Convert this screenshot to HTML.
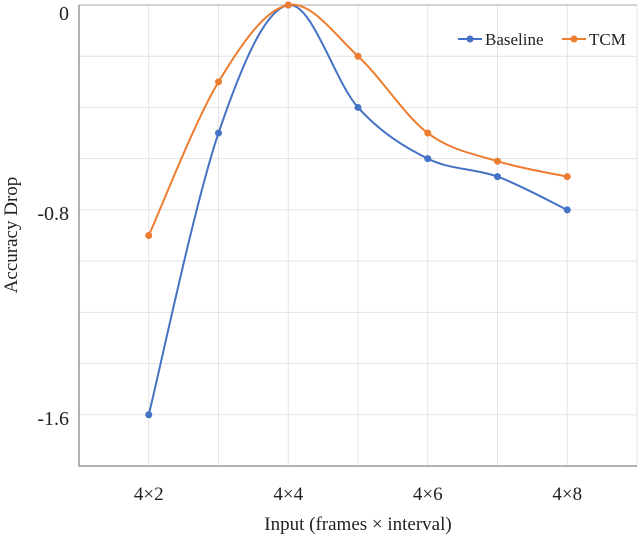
<!DOCTYPE html>
<html><head><meta charset="utf-8"><style>
body{margin:0;background:#fff;}
svg text{font-family:"Liberation Serif",serif;fill:#222;}
</style></head><body>
<svg id="chart" width="640" height="536"></svg>
<script>
const categories=["4×2","4×3","4×4","4×5","4×6","4×7","4×8"];
const tickLabelCats=["4×2","4×4","4×6","4×8"];
const baselineValues=[-1.6,-0.5,0,-0.4,-0.6,-0.67,-0.8];
const tcmValues=[-0.9,-0.3,0,-0.2,-0.5,-0.61,-0.67];
const yTicks=[0,-0.8,-1.6];
const yGrid=[0,-0.2,-0.4,-0.6,-0.8,-1.0,-1.2,-1.4,-1.6,-1.8];

const L=79,R=637,T=5,B=466;
const x=i=>L+(i+1)*(R-L)/8;
const y=v=>T+(0-v)/1.8*(B-T);
const svg=document.getElementById('chart');
const NS='http://www.w3.org/2000/svg';
function mk(tag,attrs,parent){const e=document.createElementNS(NS,tag);for(const k in attrs)e.setAttribute(k,attrs[k]);(parent||svg).appendChild(e);return e;}

for(const g of yGrid){const l=mk('line',{x1:L,x2:R,y1:y(g),y2:y(g),stroke:'#e3e3e3','stroke-width':1});

}
for(let i=0;i<=8;i++){const xx=L+i*(R-L)/8;const l=mk('line',{x1:xx,x2:xx,y1:T,y2:B,stroke:'#e3e3e3','stroke-width':1});

}
const ax=mk('path',{d:`M${L},${T}V${B}H${R}`,fill:'none',stroke:'#888','stroke-width':1.3});


const tp=mk('line',{x1:L,x2:R,y1:T,y2:T,stroke:'#aaa','stroke-width':1});



for(const t of yTicks){const e=mk('text',{x:69,y:Math.max(y(t)+10,20),'text-anchor':'end','font-size':20});e.textContent=t===0?'0':t.toFixed(1);

}
categories.forEach((c,i)=>{if(tickLabelCats.includes(c)){const e=mk('text',{x:x(i),y:500,'text-anchor':'middle','font-size':19});e.textContent=c;

}});
const xt=mk('text',{x:358,y:530,'text-anchor':'middle','font-size':19});xt.textContent='Input (frames × interval)';


const yt=mk('text',{x:0,y:0,'text-anchor':'middle','font-size':19,transform:'translate(17,235) rotate(-90)'});yt.textContent='Accuracy Drop';



function smooth(vals){const p=vals.map((v,i)=>[x(i),y(v)]);let d=`M${p[0][0]},${p[0][1]}`;
for(let i=0;i<p.length-1;i++){const p0=p[i-1]||p[i],p1=p[i],p2=p[i+1],p3=p[i+2]||p2;
const c1=[p1[0]+(p2[0]-p0[0])/6,p1[1]+(p2[1]-p0[1])/6],c2=[p2[0]-(p3[0]-p1[0])/6,p2[1]-(p3[1]-p1[1])/6];
d+=`C${c1[0]},${c1[1]} ${c2[0]},${c2[1]} ${p2[0]},${p2[1]}`;}return d;}
function series(vals,color,name){const g=mk('g',{});


const pth=mk('path',{d:smooth(vals),fill:'none',stroke:color,'stroke-width':2},g);


vals.forEach((v,i)=>{const c=mk('circle',{cx:x(i),cy:y(v),r:3.5,fill:color},g);

});}
series(baselineValues,'#4472c4','baseline');
series(tcmValues,'#ed7d31','tcm');

const lg=mk('g',{});


[['Baseline','#4472c4',458],['TCM','#ed7d31',562]].forEach(([n,c,x0])=>{
const g=mk('g',{},lg);


mk('line',{x1:x0,x2:x0+24,y1:39,y2:39,stroke:c,'stroke-width':2},g);
mk('circle',{cx:x0+12,cy:39,r:3.5,fill:c},g);
const t=mk('text',{x:x0+27,y:45,'font-size':17},g);t.textContent=n;});
</script>
</body></html>
